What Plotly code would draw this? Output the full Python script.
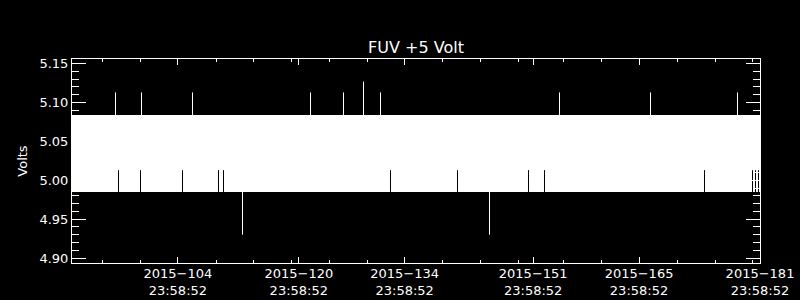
import pandas as pd
import plotly.graph_objects as go

# ---- data ----
t_start = "2015-090 23:58:52"
t_end = "2015-181 23:58:52"
band_min = 4.985   # lower edge of the dense oscillation band
band_max = 5.084   # upper edge of the dense oscillation band

up_spike_times = ["2015-096 18:04", "2015-100 04:36", "2015-106 22:29", "2015-122 13:05",
                  "2015-126 21:50", "2015-129 13:19", "2015-131 19:18", "2015-155 11:31",
                  "2015-167 12:23", "2015-179 00:35"]
up_spike_volts = [5.113, 5.113, 5.113, 5.113, 5.113, 5.127, 5.113, 5.113, 5.113, 5.113]

dip_times = ["2015-113 13:13", "2015-146 05:18"]
dip_volts = [4.930, 4.930]

# intervals where the signal did not reach the lower band edge
gap_times = ["2015-097 03:36", "2015-100 01:25", "2015-105 14:46", "2015-110 09:01",
             "2015-111 00:55", "2015-133 03:01", "2015-141 23:43", "2015-151 09:07",
             "2015-153 11:54", "2015-174 15:49", "2015-181 00:10", "2015-181 09:42",
             "2015-181 19:13"]
gap_min_volts = [5.013] * len(gap_times)

major_tick_times = ["2015-104 23:58:52", "2015-120 23:58:52", "2015-134 23:58:52",
                    "2015-151 23:58:52", "2015-165 23:58:52", "2015-181 23:58:52"]
major_tick_labels = ["2015\u2212104<br>23:58:52", "2015\u2212120<br>23:58:52",
                     "2015\u2212134<br>23:58:52", "2015\u2212151<br>23:58:52",
                     "2015\u2212165<br>23:58:52", "2015\u2212181<br>23:58:52"]
minor_tick_times = ["2015-095 00:47", "2015-100 01:26", "2015-110 02:41", "2015-115 00:09",
                    "2015-120 00:46", "2015-125 01:24", "2015-130 02:01", "2015-140 00:07",
                    "2015-145 00:45", "2015-150 01:22", "2015-156 00:13", "2015-161 00:50",
                    "2015-171 02:05", "2015-176 02:43", "2015-181 00:10"]

y_tick_vals = [4.90, 4.95, 5.00, 5.05, 5.10, 5.15]
y_tick_labels = ["4.90", "4.95", "5.00", "5.05", "5.10", "5.15"]
y_range = [4.8936, 5.156]


def doy(s):
    fmt = "%Y-%j %H:%M:%S" if s.count(":") == 2 else "%Y-%j %H:%M"
    return pd.to_datetime(s, format=fmt)


t0, t1 = doy(t_start), doy(t_end)

fig = go.Figure()

# dense band
fig.add_trace(go.Scatter(x=[t0, t1], y=[band_min, band_min], mode="lines",
                         line=dict(color="white", width=0), hoverinfo="skip"))
fig.add_trace(go.Scatter(x=[t0, t1], y=[band_max, band_max], mode="lines",
                         line=dict(color="white", width=0), fill="tonexty",
                         fillcolor="white", hoverinfo="skip"))

# upward spikes
sx, sy = [], []
for t, v in zip(up_spike_times, up_spike_volts):
    sx += [doy(t), doy(t), None]
    sy += [band_max, v, None]
fig.add_trace(go.Scatter(x=sx, y=sy, mode="lines", line=dict(color="white", width=1)))

# downward dips
dx, dy = [], []
for t, v in zip(dip_times, dip_volts):
    dx += [doy(t), doy(t), None]
    dy += [band_min, v, None]
fig.add_trace(go.Scatter(x=dx, y=dy, mode="lines", line=dict(color="white", width=1)))

# gaps in the band's lower part
gx, gy = [], []
for t, v in zip(gap_times, gap_min_volts):
    gx += [doy(t), doy(t), None]
    gy += [band_min, v, None]
fig.add_trace(go.Scatter(x=gx, y=gy, mode="lines", line=dict(color="black", width=1)))

font_family = "DejaVu Sans"

fig.update_layout(
    width=800, height=300,
    margin=dict(l=72, r=40, t=59, b=37),
    paper_bgcolor="black", plot_bgcolor="black",
    showlegend=False,
    font=dict(family=font_family, color="white", size=13),
    title=dict(text="FUV +5 Volt", x=(72 + 344) / 800, xanchor="center",
               y=1 - 47 / 300, yref="container", yanchor="middle",
               font=dict(size=16, color="white", family=font_family)),
)

fig.update_xaxes(
    type="date", range=[t0, t1], automargin=False,
    showgrid=False, zeroline=False,
    showline=True, linecolor="white", linewidth=1, mirror="allticks",
    ticks="inside", ticklen=6, tickcolor="white", tickwidth=1,
    tickmode="array", tickvals=[doy(t) for t in major_tick_times],
    ticktext=major_tick_labels, ticklabelstandoff=-2,
    tickfont=dict(size=13, color="white", family=font_family),
    minor=dict(tickmode="array", tickvals=[doy(t) for t in minor_tick_times],
               ticks="inside", ticklen=3, tickcolor="white", tickwidth=1, showgrid=False),
)

fig.update_yaxes(
    range=y_range, automargin=False,
    showgrid=False, zeroline=False,
    showline=True, linecolor="white", linewidth=1, mirror="allticks",
    ticks="inside", ticklen=14, tickcolor="white", tickwidth=1,
    tickmode="array", tickvals=y_tick_vals, ticktext=y_tick_labels,
    tickfont=dict(size=13, color="white", family=font_family),
    minor=dict(tick0=4.90, dtick=0.01, ticks="inside", ticklen=7,
               tickcolor="white", tickwidth=1, showgrid=False),
    title=dict(text="Volts", standoff=8, font=dict(size=13, color="white", family=font_family)),
)

fig.write_html("out.html")
